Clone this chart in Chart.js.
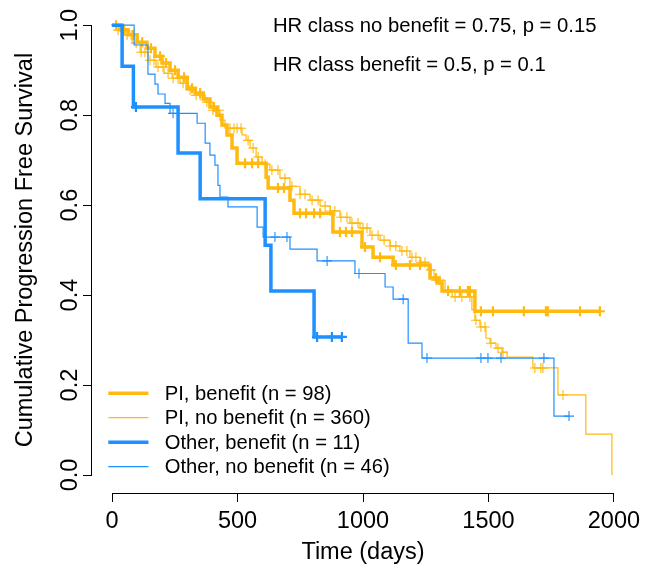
<!DOCTYPE html>
<html><head><meta charset="utf-8">
<script src="https://cdn.jsdelivr.net/npm/chart.js@4/dist/chart.umd.min.js"></script>
<style>html,body{margin:0;padding:0;background:#fff;} #wrap{width:645px;height:572px;position:relative;}</style>
</head><body><div id="wrap"><canvas id="c" width="645" height="572"></canvas></div>
<script>
// ---------- data ----------
const xTicks = [0, 500, 1000, 1500, 2000];
const yTicks = [0, 0.2, 0.4, 0.6, 0.8, 1.0];
const seriesLabels = ['PI, benefit (n = 98)', 'PI, no benefit (n = 360)', 'Other, benefit (n = 11)', 'Other, no benefit (n = 46)'];
const annotations = ['HR class no benefit = 0.75, p = 0.15', 'HR class benefit = 0.5, p = 0.1'];

// PI, benefit
const piBenefitTime = [32, 64, 100, 139, 171, 199, 231, 263, 299, 331, 363, 390, 418, 438, 458, 478, 498, 614, 622, 709, 725, 880, 996, 1040, 1120, 1267, 1299, 1315, 1446];
const piBenefitSurv = [0.990, 0.979, 0.962, 0.949, 0.931, 0.916, 0.900, 0.884, 0.860, 0.849, 0.836, 0.818, 0.800, 0.778, 0.756, 0.727, 0.693, 0.662, 0.638, 0.611, 0.582, 0.540, 0.507, 0.484, 0.467, 0.438, 0.427, 0.409, 0.364];
const piBenefitCensor = [16, 48, 84, 120, 155, 191, 215, 251, 287, 319, 351, 406, 530, 558, 582, 661, 685, 749, 773, 805, 829, 908, 932, 956, 1008, 1068, 1131, 1187, 1227, 1291, 1339, 1386, 1418, 1426, 1470, 1518, 1641, 1729, 1737, 1865, 1944];

// PI, no benefit
const piNoBenefitTime = [24, 52, 80, 112, 143, 175, 207, 239, 271, 303, 335, 371, 402, 430, 450, 518, 534, 550, 574, 598, 629, 669, 709, 749, 789, 829, 869, 908, 948, 988, 1028, 1068, 1108, 1147, 1187, 1227, 1259, 1283, 1327, 1355, 1434, 1446, 1466, 1490, 1506, 1530, 1554, 1574, 1677, 1777, 1888, 1992];
const piNoBenefitSurv = [0.989, 0.978, 0.960, 0.940, 0.922, 0.907, 0.893, 0.882, 0.871, 0.856, 0.844, 0.829, 0.811, 0.789, 0.771, 0.756, 0.744, 0.727, 0.707, 0.691, 0.678, 0.660, 0.642, 0.624, 0.611, 0.598, 0.587, 0.573, 0.560, 0.549, 0.533, 0.522, 0.509, 0.498, 0.484, 0.473, 0.456, 0.433, 0.411, 0.396, 0.367, 0.344, 0.329, 0.304, 0.293, 0.282, 0.273, 0.262, 0.238, 0.178, 0.091, 0.0];
const piNoBenefitCensor = [24, 40, 60, 76, 96, 116, 131, 151, 167, 183, 203, 223, 243, 263, 283, 311, 335, 351, 378, 402, 426, 470, 486, 498, 514, 542, 562, 582, 610, 637, 661, 689, 717, 749, 769, 797, 821, 849, 869, 888, 912, 936, 956, 980, 1000, 1016, 1036, 1060, 1084, 1108, 1131, 1155, 1175, 1195, 1211, 1231, 1247, 1271, 1291, 1307, 1339, 1367, 1394, 1426, 1450, 1470, 1486, 1510, 1538, 1558, 1685, 1709, 1717, 1797];

// Other, benefit
const otherBenefitTime = [40, 85, 263, 351, 610, 633, 805];
const otherBenefitSurv = [0.909, 0.818, 0.716, 0.614, 0.511, 0.409, 0.307];
const otherBenefitCensor = [95, 817, 876, 916];

// Other, no benefit
const otherNoBenefitTime = [88, 143, 171, 183, 211, 231, 339, 371, 390, 410, 422, 430, 462, 578, 602, 709, 817, 968, 1088, 1120, 1180, 1235, 1761];
const otherNoBenefitSurv = [0.956, 0.891, 0.869, 0.847, 0.826, 0.804, 0.782, 0.738, 0.711, 0.689, 0.644, 0.618, 0.596, 0.551, 0.529, 0.502, 0.476, 0.448, 0.418, 0.391, 0.293, 0.260, 0.131];
const otherNoBenefitCensor = [243, 649, 697, 857, 984, 1160, 1255, 1470, 1498, 1550, 1721, 1821];

// ---------- helpers ----------
const ORANGE = '#FFB90F';
const BLUE = '#1E90FF';
const FONT = "'Liberation Sans', Arial, Helvetica, sans-serif";

function kmPoints(times, surv, censor) {
  const pts = [{x: 0, y: 1}];
  times.forEach((t, i) => pts.push({x: t, y: surv[i]}));
  const lastT = times[times.length - 1];
  const end = Math.max(lastT, ...censor);
  if (end > lastT) pts.push({x: end, y: surv[surv.length - 1]});
  return pts;
}
function survAt(times, surv, t) {
  let s = 1;
  for (let i = 0; i < times.length; i++) if (times[i] <= t) s = surv[i];
  return s;
}
function censorPoints(times, surv, censor) {
  return censor.map(t => ({x: t, y: survAt(times, surv, t)}));
}

const groups = [
  {label: seriesLabels[0], t: piBenefitTime, s: piBenefitSurv, c: piBenefitCensor, color: ORANGE, w: 3.5},
  {label: seriesLabels[1], t: piNoBenefitTime, s: piNoBenefitSurv, c: piNoBenefitCensor, color: ORANGE, w: 1.2},
  {label: seriesLabels[2], t: otherBenefitTime, s: otherBenefitSurv, c: otherBenefitCensor, color: BLUE, w: 3.5},
  {label: seriesLabels[3], t: otherNoBenefitTime, s: otherNoBenefitSurv, c: otherNoBenefitCensor, color: BLUE, w: 1.2}
];

const datasets = [];
groups.forEach((g, i) => {
  datasets.push({
    type: 'line', label: g.label, data: kmPoints(g.t, g.s, g.c),
    stepped: true, borderColor: g.color, borderWidth: g.w, pointRadius: 0,
    fill: false, tension: 0, order: 10 - i
  });
  datasets.push({
    type: 'scatter', label: g.label + ' censored', data: censorPoints(g.t, g.s, g.c),
    pointStyle: 'cross', pointRadius: 5, pointBorderWidth: g.w > 2 ? 2.2 : 1.1,
    borderColor: g.color, backgroundColor: g.color, pointHoverRadius: 5,
    showLine: false, order: 10 - i
  });
});

// ---------- plugins ----------
const rAxes = {
  id: 'rAxes',
  afterDraw(chart) {
    const ctx = chart.ctx, xs = chart.scales.x, ys = chart.scales.y;
    ctx.save();
    ctx.strokeStyle = '#000'; ctx.lineWidth = 1;
    ctx.beginPath();
    const yb = Math.round(xs.top) + 0.5;
    ctx.moveTo(xs.getPixelForValue(xTicks[0]), yb);
    ctx.lineTo(xs.getPixelForValue(xTicks[xTicks.length - 1]), yb);
    const xl = Math.round(ys.right) - 0.5;
    ctx.moveTo(xl, ys.getPixelForValue(yTicks[0]));
    ctx.lineTo(xl, ys.getPixelForValue(yTicks[yTicks.length - 1]));
    ctx.stroke();
    ctx.restore();
  }
};

const rLegend = {
  id: 'rLegend',
  afterDraw(chart) {
    const ctx = chart.ctx;
    const xs = chart.scales.x, ys = chart.scales.y;
    const x0 = xs.getPixelForValue(-15), x1 = xs.getPixelForValue(145), xt = xs.getPixelForValue(210);
    const yTop = ys.getPixelForValue(0.182), step = 24.5;
    ctx.save();
    ctx.font = '20.2px ' + FONT;
    ctx.textBaseline = 'middle'; ctx.textAlign = 'left'; ctx.fillStyle = '#000';
    groups.forEach((g, i) => {
      const y = yTop + i * step;
      ctx.strokeStyle = g.color; ctx.lineWidth = g.w;
      ctx.beginPath(); ctx.moveTo(x0, y); ctx.lineTo(x1, y); ctx.stroke();
      ctx.fillText(g.label, xt, y + 1);
    });
    ctx.restore();
  }
};

const rText = {
  id: 'rText',
  afterDraw(chart) {
    const ctx = chart.ctx, xs = chart.scales.x, ys = chart.scales.y;
    ctx.save();
    ctx.font = '20.3px ' + FONT; ctx.fillStyle = '#000';
    ctx.textBaseline = 'middle'; ctx.textAlign = 'left';
    const ax = xs.getPixelForValue(641);
    ctx.fillText(annotations[0], ax, ys.getPixelForValue(0.998));
    ctx.fillText(annotations[1], ax, ys.getPixelForValue(0.911));
    ctx.restore();
  }
};

Chart.defaults.font.family = FONT;
Chart.defaults.color = '#000';

new Chart(document.getElementById('c'), {
  type: 'line',
  data: {datasets},
  options: {
    responsive: false, animation: false, devicePixelRatio: 1,
    layout: {padding: {top: 7, right: 11, left: 0, bottom: 0}},
    plugins: {legend: {display: false}, tooltip: {enabled: false}},
    events: [],
    scales: {
      x: {
        type: 'linear', min: -80, max: 2080,
        afterBuildTicks: s => { s.ticks = xTicks.map(v => ({value: v})); },
        afterFit: s => { s.height = 79; s.paddingLeft = 0; s.paddingRight = 0; },
        grid: {drawOnChartArea: false, drawTicks: true, tickLength: 9, color: '#000', lineWidth: 1},
        border: {display: false},
        ticks: {font: {size: 23.5}, color: '#000', padding: 5, maxRotation: 0, autoSkip: false, callback: v => String(v)},
        title: {display: true, text: 'Time (days)', font: {size: 23.5}, color: '#000', padding: {top: 0, bottom: 5}}
      },
      y: {
        type: 'linear', min: -0.04, max: 1.04,
        afterBuildTicks: s => { s.ticks = yTicks.map(v => ({value: v})); },
        afterFit: s => { s.width = 92; s.paddingTop = 0; s.paddingBottom = 0; },
        grid: {drawOnChartArea: false, drawTicks: true, tickLength: 9, color: '#000', lineWidth: 1},
        border: {display: false},
        ticks: {font: {size: 23.5}, color: '#000', padding: -4, minRotation: 90, maxRotation: 90, crossAlign: 'center', autoSkip: false, callback: v => v.toFixed(1)},
        title: {display: true, text: 'Cumulative Progression Free Survival', font: {size: 23.5}, color: '#000', padding: {top: 11, bottom: 0}}
      }
    }
  },
  plugins: [rAxes, rLegend, rText]
});
</script>
</body></html>
